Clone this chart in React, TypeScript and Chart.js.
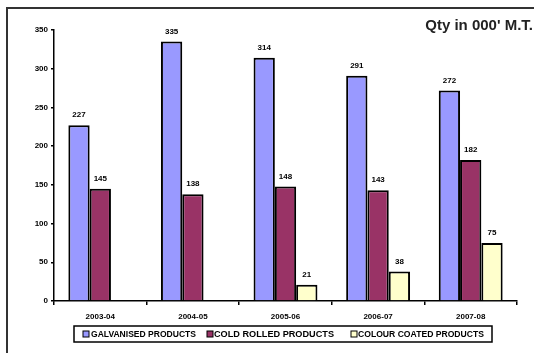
import React, { useEffect, useRef } from "react";
import { Chart, registerables } from "chart.js";

Chart.register(...registerables);

const categories = ["2003-04", "2004-05", "2005-06", "2006-07", "2007-08"];
const galvanised = [227, 335, 314, 291, 272];
const coldRolled = [145, 138, 148, 143, 182];
const colourCoated: (number | null)[] = [null, null, 21, 38, 75];
const seriesNames = ["GALVANISED PRODUCTS", "COLD ROLLED PRODUCTS", "COLOUR COATED PRODUCTS"];
const seriesColors = ["#9999FF", "#993366", "#FFFFCC"];
const yTicks = [0, 50, 100, 150, 200, 250, 300, 350];
const unitTitle = "Qty in 000' M.T.";

const FONT = "Arial, 'Liberation Sans', sans-serif";

const valueLabels = {
  id: "valueLabels",
  afterDatasetsDraw(chart: any) {
    const ctx = chart.ctx;
    ctx.save();
    ctx.font = `bold 8px ${FONT}`;
    ctx.fillStyle = "#000";
    ctx.textAlign = "center";
    ctx.textBaseline = "middle";
    chart.data.datasets.forEach((ds: any, i: number) => {
      const meta = chart.getDatasetMeta(i);
      meta.data.forEach((bar: any, j: number) => {
        const v = ds.data[j];
        if (v === null || v === undefined) return;
        ctx.fillText(String(v), bar.x, bar.y - 10);
      });
    });
    ctx.restore();
  },
};

const extras = {
  id: "extras",
  afterDraw(chart: any) {
    const ctx = chart.ctx;
    ctx.save();
    // unit title
    ctx.font = `bold 15px ${FONT}`;
    ctx.fillStyle = "#222";
    ctx.textAlign = "right";
    ctx.textBaseline = "alphabetic";
    ctx.fillText(unitTitle, 533, 30);

    // legend box
    ctx.strokeStyle = "#000";
    ctx.lineWidth = 1.5;
    ctx.strokeRect(74, 326, 418, 16);
    const markerX = [83, 207, 351];
    const textX = [91, 214, 358];
    const textW = [105, 120, 126];
    ctx.font = `bold 9px ${FONT}`;
    ctx.textAlign = "left";
    ctx.textBaseline = "middle";
    chart.data.datasets.forEach((ds: any, i: number) => {
      ctx.fillStyle = seriesColors[i];
      ctx.fillRect(markerX[i], 331, 6, 6);
      ctx.lineWidth = 1;
      ctx.strokeStyle = "#000";
      ctx.strokeRect(markerX[i], 331, 6, 6);
      const w = ctx.measureText(ds.label).width;
      ctx.save();
      ctx.translate(textX[i], 334.5);
      ctx.scale(textW[i] / w, 1);
      ctx.fillStyle = "#000";
      ctx.fillText(ds.label, 0, 0);
      ctx.restore();
    });
    ctx.restore();
  },
};

export default function App() {
  const ref = useRef<HTMLCanvasElement>(null);
  useEffect(() => {
    if (!ref.current) return;
    const chart = new Chart(ref.current, {
      type: "bar",
      data: {
        labels: categories,
        datasets: [galvanised, coldRolled, colourCoated].map((d, i) => ({
          label: seriesNames[i],
          data: d,
          backgroundColor: seriesColors[i],
          borderColor: "#000",
          borderWidth: 2,
          categoryPercentage: 0.69,
          barPercentage: 1,
        })),
      },
      options: {
        responsive: false,
        animation: false,
        devicePixelRatio: 1,
        layout: { padding: { left: 0, top: 30, right: 17, bottom: 28 } },
        plugins: { legend: { display: false }, tooltip: { enabled: false } },
        scales: {
          x: {
            afterFit: (s: any) => { s.height = 24; },
            grid: { display: true, drawOnChartArea: false, color: "#000", tickLength: 4, lineWidth: 1.5, offset: true },
            border: { display: true, color: "#000", width: 1.5 },
            ticks: { color: "#000", font: { family: FONT, size: 8, weight: "bold" }, padding: 7 },
          },
          y: {
            min: 0,
            max: 350,
            afterFit: (s: any) => { s.width = 54; },
            afterBuildTicks: (s: any) => { s.ticks = yTicks.map((v) => ({ value: v })); },
            grid: { display: true, drawOnChartArea: false, color: "#000", tickLength: 3, lineWidth: 1.5 },
            border: { display: true, color: "#000", width: 1.5 },
            ticks: { color: "#000", font: { family: FONT, size: 8, weight: "bold" }, padding: 3 },
          },
        },
      },
      plugins: [valueLabels, extras],
    });
    return () => chart.destroy();
  }, []);
  return (
    <div style={{ position: "fixed", left: 0, top: 0, width: 534, height: 353, background: "#fff", overflow: "hidden" }}>
      <div style={{ position: "absolute", left: 6, top: 7, width: 600, height: 400, borderTop: "2px solid #333", borderLeft: "2px solid #333" }} />
      <canvas ref={ref} width={534} height={353} style={{ position: "absolute", left: 0, top: 0, display: "block" }} />
    </div>
  );
}
